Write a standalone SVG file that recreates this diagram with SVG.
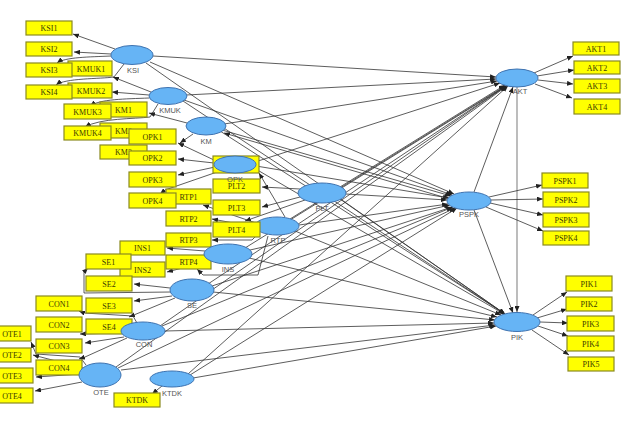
<svg xmlns="http://www.w3.org/2000/svg" width="624" height="432" viewBox="0 0 624 432">
<defs>
<marker id="a" markerWidth="6" markerHeight="5" refX="6" refY="2.5" orient="auto" markerUnits="userSpaceOnUse"><path d="M0,0 L6,2.5 L0,5 z" fill="#222"/></marker>
<style>
.r{fill:#ffff00;stroke:#8a8a20;stroke-width:1.2}
.t{font-family:"Liberation Serif",serif;font-size:8px;fill:#3a3a00;text-anchor:middle}
.e{fill:#66b4f5;stroke:#3f73b0;stroke-width:1}
.l{font-family:"Liberation Sans",sans-serif;font-size:7.5px;fill:#555;text-anchor:middle}
#connectors path{stroke:#333;stroke-width:0.8;fill:none;marker-end:url(#a)}
#connectors path.g{stroke:#999;stroke-width:1.3}
</style>
</defs>
<rect width="624" height="432" fill="#fff"/>
<g id="connectors">
<path d="M115,49 L73,34"/>
<path d="M111,54 L74,52"/>
<path d="M111,56 C90,57 65,57 57,63"/>
<path d="M124,64 L114,77 C100,79 65,78 56,85"/>
<path d="M151,92 L113,77"/>
<path d="M149,95 L112,92"/>
<path d="M149,98 C125,99 100,99 90,106"/>
<path d="M158,104 L150,117 C135,119 100,118 85,127"/>
<path d="M187,123 L149,113"/>
<path d="M193,134 L180,143"/>
<path d="M214,160 L178,143"/>
<path d="M214,163 L178,159"/>
<path d="M215,167 L178,175"/>
<path d="M220,171 L165,190 L160,194"/>
<path d="M285,217 L259,173"/>
<path d="M300,189 L262,187"/>
<path d="M300,197 L262,207"/>
<path d="M305,200 L245,221"/>
<path d="M256,223 L203,205"/>
<path d="M255,227 L212,219"/>
<path d="M259,233 L252,240 L212,240"/>
<path d="M268,236 L258,275 L203,275 L197,269"/>
<path d="M205,251 L167,248"/>
<path d="M209,261 L167,272"/>
<path d="M171,292 L84,293 L84,272 L88,268"/>
<path d="M170,288 L134,284"/>
<path d="M172,296 L134,301"/>
<path d="M175,298 L129,317"/>
<path d="M137,323 L133,316 L84,313 L79,311"/>
<path d="M121,333 L80,334"/>
<path d="M124,337 L85,343"/>
<path d="M127,338 L85,357 L79,359"/>
<path d="M86,365 L80,357 L36,354 L31,342"/>
<path d="M83,368 L33,355"/>
<path d="M80,374 L36,377"/>
<path d="M82,382 L35,391"/>
<path d="M162,386 L152,394"/>
<path d="M153,56 L496,77"/>
<path d="M186,95 L496,79"/>
<path d="M224,124 L497,81"/>
<path d="M255,162 L500,83"/>
<path d="M340,187 L505,85"/>
<path d="M290,219 L505,86"/>
<path d="M245,248 L506,86"/>
<path d="M208,284 L506,86"/>
<path d="M160,326 L506,86"/>
<path d="M116,367 L507,86"/>
<path d="M188,374 L508,86"/>
<path d="M474,192 L513,87"/>
<path d="M150,62 L454,194"/>
<path d="M184,100 L452,195"/>
<path d="M222,130 L451,196"/>
<path d="M256,166 L449,198"/>
<path d="M346,194 L447,200"/>
<path d="M299,225 L448,204"/>
<path d="M250,250 L450,205"/>
<path d="M212,286 L452,207"/>
<path d="M162,326 L453,207"/>
<path d="M118,368 L455,208"/>
<path d="M190,375 L457,208"/>
<path d="M450,199 L224,133"/>
<path d="M146,63 L505,314"/>
<path d="M183,101 L505,314"/>
<path d="M220,131 L505,314"/>
<path d="M254,168 L504,314"/>
<path d="M340,199 L505,314"/>
<path d="M295,231 L501,315"/>
<path d="M249,258 L497,317"/>
<path d="M213,292 L495,320"/>
<path d="M165,331 L494,323"/>
<path d="M121,370 L495,325"/>
<path d="M193,378 L496,326"/>
<path d="M474,210 L513,313"/>
<path class="g" d="M517,87 L517,312"/>
<path d="M534,73 L573,56"/>
<path d="M537,76 L574,70"/>
<path d="M538,80 L573,84"/>
<path d="M535,84 L572,98"/>
<path d="M489,197 L542,185"/>
<path d="M491,200 L543,199"/>
<path d="M490,203 L543,215"/>
<path d="M486,207 L543,231"/>
<path d="M533,315 L567,292"/>
<path d="M537,318 L567,309"/>
<path d="M540,322 L568,323"/>
<path d="M538,326 L568,336"/>
<path d="M532,330 L569,355"/>
</g>
<g id="KM">
<rect class="r" x="100" y="102" width="47" height="15"/><text class="t" x="123.5" y="112.5">KM1</text>
<rect class="r" x="100" y="123" width="47" height="15"/><text class="t" x="123.5" y="133.5">KM2</text>
<rect class="r" x="100" y="145" width="47" height="14"/><text class="t" x="123.5" y="155">KM3</text>
<ellipse class="e" cx="206" cy="126" rx="20" ry="9"/><text class="l" x="206" y="144">KM</text>
</g>
<g id="KMUK">
<rect class="r" x="68" y="61" width="44" height="15"/><text class="t" x="91" y="71.5">KMUK1</text>
<rect class="r" x="68" y="83" width="44" height="15"/><text class="t" x="91" y="93.5">KMUK2</text>
<rect class="r" x="64" y="104" width="47" height="15"/><text class="t" x="87.5" y="114.5">KMUK3</text>
<rect class="r" x="64" y="126" width="47" height="14"/><text class="t" x="87.5" y="136">KMUK4</text>
<ellipse class="e" cx="168" cy="96" rx="19" ry="8.5"/><text class="l" x="170" y="113">KMUK</text>
</g>
<g id="KSI">
<rect class="r" x="26" y="21" width="46" height="14"/><text class="t" x="49" y="31">KSI1</text>
<rect class="r" x="26" y="42" width="46" height="14"/><text class="t" x="49" y="52">KSI2</text>
<rect class="r" x="26" y="63" width="46" height="14"/><text class="t" x="49" y="73">KSI3</text>
<rect class="r" x="26" y="85" width="46" height="14"/><text class="t" x="49" y="95">KSI4</text>
<ellipse class="e" cx="132" cy="55" rx="21" ry="9.5"/><text class="l" x="133" y="73">KSI</text>
</g>
<g id="RTP">
<rect class="r" x="166" y="189" width="45" height="15"/><text class="t" x="188.5" y="199.5">RTP1</text>
<rect class="r" x="166" y="211" width="45" height="15"/><text class="t" x="188.5" y="221.5">RTP2</text>
<rect class="r" x="166" y="233" width="45" height="14"/><text class="t" x="188.5" y="243">RTP3</text>
<rect class="r" x="166" y="255" width="45" height="14"/><text class="t" x="188.5" y="265">RTP4</text>
<ellipse class="e" cx="277" cy="226" rx="22" ry="9"/><text class="l" x="278" y="243">RTP</text>
</g>
<g id="PLT">
<rect class="r" x="213" y="156" width="46" height="17"/>
<rect class="r" x="213" y="179" width="47" height="14"/><text class="t" x="236.5" y="189">PLT2</text>
<rect class="r" x="213" y="200" width="47" height="15"/><text class="t" x="236.5" y="210.5">PLT3</text>
<rect class="r" x="213" y="222" width="47" height="15"/><text class="t" x="236.5" y="232.5">PLT4</text>
<ellipse class="e" cx="322" cy="193" rx="24" ry="10"/><text class="l" x="322" y="211">PLT</text>
</g>
<g id="OPK">
<rect class="r" x="129" y="129" width="47" height="15"/><text class="t" x="152.5" y="139.5">OPK1</text>
<rect class="r" x="129" y="151" width="47" height="14"/><text class="t" x="152.5" y="161">OPK2</text>
<rect class="r" x="129" y="172" width="47" height="15"/><text class="t" x="152.5" y="182.5">OPK3</text>
<rect class="r" x="129" y="193" width="47" height="15"/><text class="t" x="152.5" y="203.5">OPK4</text>
<ellipse class="e" cx="235" cy="164.5" rx="21" ry="8.5"/><text class="l" x="235" y="182">OPK</text>
</g>
<g id="INS">
<rect class="r" x="120" y="241" width="45" height="14"/><text class="t" x="142.5" y="251">INS1</text>
<rect class="r" x="120" y="262" width="45" height="15"/><text class="t" x="142.5" y="272.5">INS2</text>
<ellipse class="e" cx="228" cy="254" rx="24" ry="10"/><text class="l" x="228" y="272">INS</text>
</g>
<g id="SE">
<rect class="r" x="86" y="254" width="45" height="15"/><text class="t" x="108.5" y="264.5">SE1</text>
<rect class="r" x="86" y="276" width="46" height="15"/><text class="t" x="109" y="286.5">SE2</text>
<rect class="r" x="86" y="298" width="46" height="15"/><text class="t" x="109" y="308.5">SE3</text>
<rect class="r" x="86" y="319" width="46" height="15"/><text class="t" x="109" y="329.5">SE4</text>
<ellipse class="e" cx="192" cy="290" rx="22" ry="11"/><text class="l" x="192" y="308">SE</text>
</g>
<g id="CON">
<rect class="r" x="36" y="296" width="46" height="15"/><text class="t" x="59" y="306.5">CON1</text>
<rect class="r" x="36" y="317" width="46" height="15"/><text class="t" x="59" y="327.5">CON2</text>
<rect class="r" x="36" y="339" width="46" height="14"/><text class="t" x="59" y="349">CON3</text>
<rect class="r" x="36" y="360" width="46" height="15"/><text class="t" x="59" y="370.5">CON4</text>
<ellipse class="e" cx="143" cy="331" rx="22" ry="9"/><text class="l" x="144" y="347">CON</text>
</g>
<g id="OTE">
<rect class="r" x="-15" y="326" width="46" height="15"/><text class="t" x="12" y="336.5">OTE1</text>
<rect class="r" x="-15" y="348" width="46" height="14"/><text class="t" x="12" y="358">OTE2</text>
<rect class="r" x="-13" y="368" width="46" height="15"/><text class="t" x="12" y="378.5">OTE3</text>
<rect class="r" x="-13" y="388" width="46" height="15"/><text class="t" x="12" y="398.5">OTE4</text>
<ellipse class="e" cx="100" cy="375" rx="21" ry="12"/><text class="l" x="101" y="395">OTE</text>
</g>
<g id="KTDK">
<rect class="r" x="114" y="393" width="46" height="14"/><text class="t" x="137" y="403">KTDK</text>
<ellipse class="e" cx="172" cy="379" rx="22" ry="8"/><text class="l" x="172" y="396">KTDK</text>
</g>
<g id="AKT">
<rect class="r" x="573" y="42" width="46" height="13"/><text class="t" x="596" y="51.5">AKT1</text>
<rect class="r" x="574" y="61" width="46" height="13"/><text class="t" x="597" y="70.5">AKT2</text>
<rect class="r" x="574" y="79" width="46" height="14"/><text class="t" x="597" y="89">AKT3</text>
<rect class="r" x="574" y="99" width="46" height="15"/><text class="t" x="597" y="109.5">AKT4</text>
<ellipse class="e" cx="517" cy="78" rx="21" ry="9"/><text class="l" x="520" y="94">AKT</text>
</g>
<g id="PSPK">
<rect class="r" x="542" y="173" width="46" height="15"/><text class="t" x="565" y="183.5">PSPK1</text>
<rect class="r" x="543" y="192" width="46" height="15"/><text class="t" x="566" y="202.5">PSPK2</text>
<rect class="r" x="543" y="213" width="46" height="14"/><text class="t" x="566" y="223">PSPK3</text>
<rect class="r" x="543" y="231" width="46" height="14"/><text class="t" x="566" y="241">PSPK4</text>
<ellipse class="e" cx="469" cy="201" rx="22" ry="9"/><text class="l" x="469" y="217">PSPK</text>
</g>
<g id="PIK">
<rect class="r" x="566" y="276" width="46" height="15"/><text class="t" x="589" y="286.5">PIK1</text>
<rect class="r" x="566" y="297" width="46" height="14"/><text class="t" x="589" y="307">PIK2</text>
<rect class="r" x="567" y="316" width="47" height="15"/><text class="t" x="590.5" y="326.5">PIK3</text>
<rect class="r" x="567" y="336" width="47" height="15"/><text class="t" x="590.5" y="346.5">PIK4</text>
<rect class="r" x="568" y="357" width="46" height="14"/><text class="t" x="591" y="367">PIK5</text>
<ellipse class="e" cx="517" cy="322" rx="23" ry="9.5"/><text class="l" x="517" y="340">PIK</text>
</g>
</svg>
